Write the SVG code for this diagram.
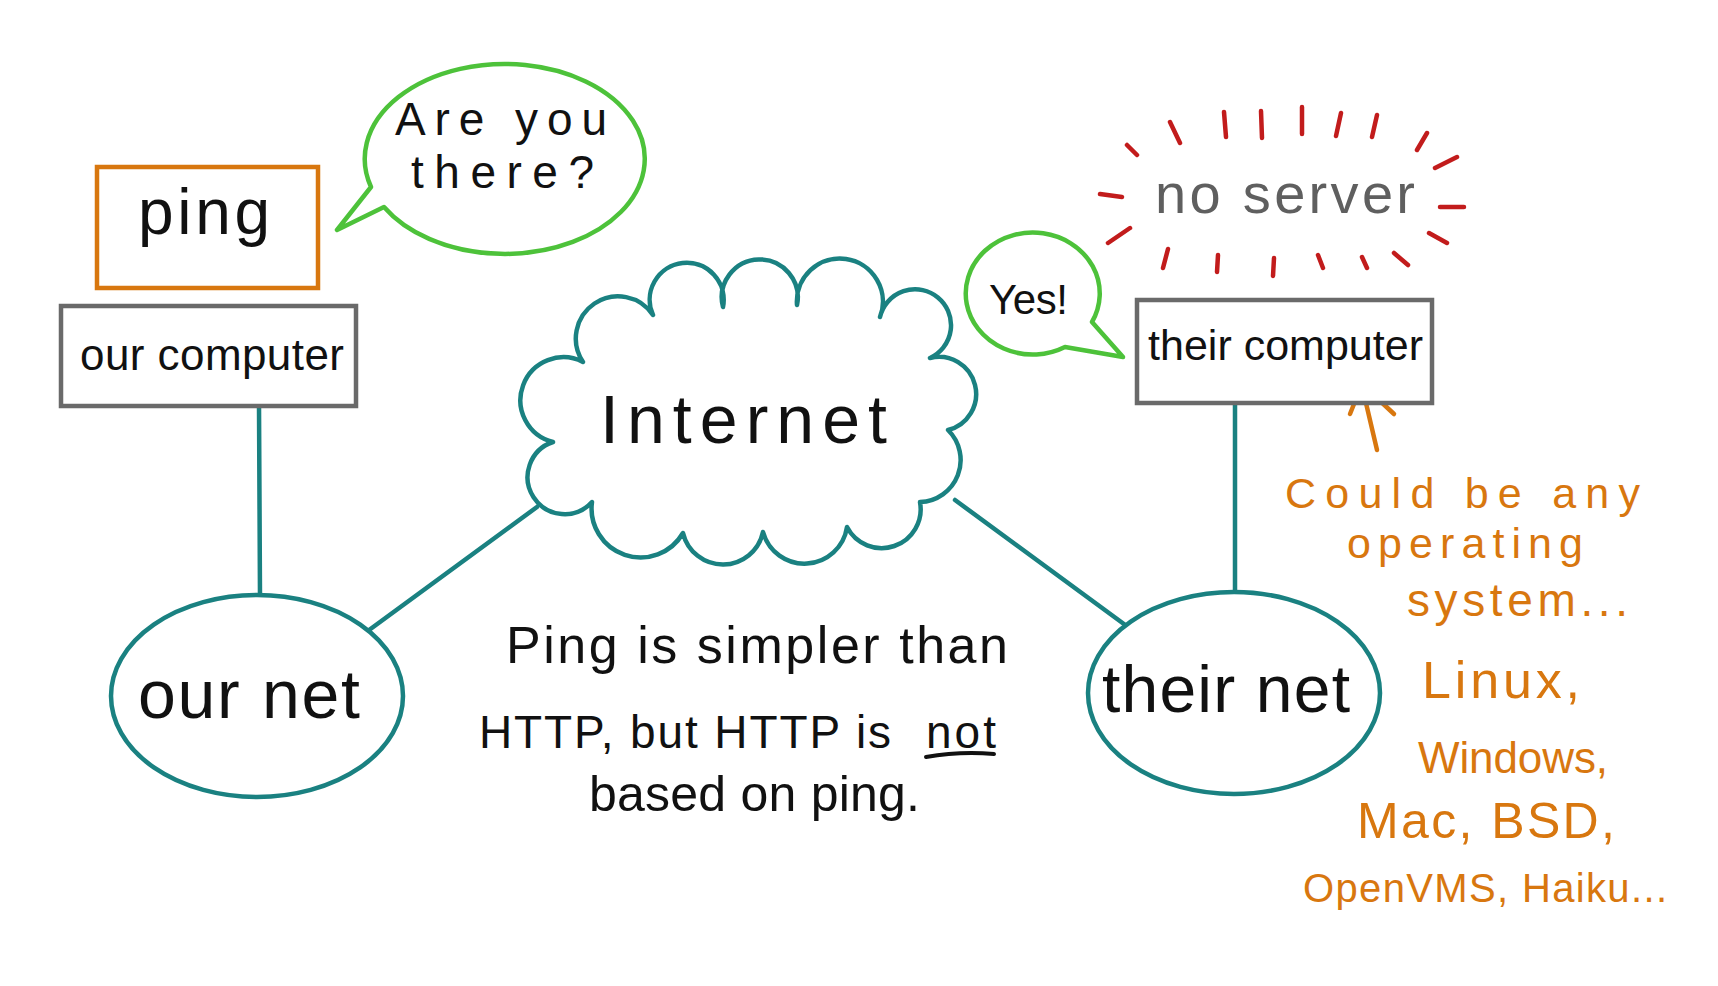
<svg xmlns="http://www.w3.org/2000/svg" width="1718" height="986" viewBox="0 0 1718 986">
<defs>
<style>
.t{font-family:"Liberation Sans",Arial,sans-serif;fill:#111}
.or{fill:#d8770f}
.teal{fill:#fff;stroke:#1a8181;stroke-width:4.5;stroke-linejoin:round}
.conn{fill:none;stroke:#1a8181;stroke-width:4.5;stroke-linecap:round}
.box{fill:#fff;stroke:#6a6a6a;stroke-width:4.5}
.bub{fill:#fff;stroke:#4dc23a;stroke-width:4.5;stroke-linejoin:round}
.dash{fill:none;stroke:#c21c1c;stroke-width:4.5;stroke-linecap:round}
</style>
</defs>
<rect width="1718" height="986" fill="#fff"/>
<g id="connectors">
<path class="conn" d="M259,405 L260,597"/>
<path class="conn" d="M365,633 L537,507"/>
<path class="conn" d="M955,500 L1128,627"/>
<path class="conn" d="M1235,402 L1235,593"/>
<path d="M1377,450 L1362,386 M1350,414 L1362,384 L1394,414" fill="none" stroke="#d8770f" stroke-width="4.5" stroke-linecap="round" stroke-linejoin="round"/>
</g>
<g id="ping">
<rect x="97" y="167" width="221" height="121" fill="#fff" stroke="#d8770f" stroke-width="4.5"/>
<text class="t" x="138" y="234" font-size="64" textLength="132">ping</text>
</g>
<g id="our-computer">
<rect class="box" x="61" y="306" width="295" height="100"/>
<text class="t" x="80" y="370" font-size="44" textLength="264">our computer</text>
</g>
<g id="bubble-are-you-there">
<path class="bub" d="M371,187 L337,230 L384,207 A140,95 0 1,0 371,187 Z"/>
<text class="t" x="395" y="135" font-size="46" textLength="212">Are you</text>
<text class="t" x="411" y="188" font-size="46" textLength="183">there?</text>
</g>
<g id="internet">
<path class="teal" d="M653,315 A37,37 0 1,1 723,307 A38,38 0 1,1 797,305 A43,43 0 1,1 880,317 A36,36 0 1,1 930,358 A37,37 0 1,1 948,430 A42,42 0 0,1 920,502 A39,39 0 0,1 847,527 A43,43 0 0,1 763,532 A41,41 0 0,1 683,533 A49,49 0 0,1 592,502 A37,37 0 1,1 553,442 A43,43 0 1,1 583,362 A42,42 0 1,1 653,315 Z"/>
<text class="t" x="600" y="443" font-size="68" textLength="287">Internet</text>
</g>
<g id="our-net">
<ellipse class="teal" cx="257" cy="696" rx="146" ry="101"/>
<text class="t" x="138" y="718" font-size="68" textLength="222">our net</text>
</g>
<g id="their-net">
<ellipse class="teal" cx="1234" cy="693" rx="146" ry="101"/>
<text class="t" x="1102" y="712" font-size="66" textLength="248">their net</text>
</g>
<g id="their-computer">
<rect class="box" x="1137" y="300" width="295" height="103"/>
<text class="t" x="1148" y="360" font-size="43" textLength="275">their computer</text>
</g>
<g id="bubble-yes">
<path class="bub" d="M1065,347 L1123,357 L1092,322 A67,61 0 1,0 1065,347 Z"/>
<text class="t" x="989" y="314" font-size="42" textLength="79">Yes!</text>
</g>
<g id="no-server">
<text class="t" x="1155" y="213" font-size="56" textLength="260" style="fill:#5f5f5f">no server</text>
<path class="dash" d="M1127,145 L1137,155 M1170,122 L1180,143 M1224,112 L1226,137 M1261,111 L1262,138 M1302,107 L1302,134 M1341,113 L1336,136 M1377,115 L1372,137 M1427,133 L1417,150 M1457,157 L1435,168 M1440,207 L1464,207 M1429,233 L1447,243 M1394,253 L1408,265 M1362,257 L1367,268 M1318,255 L1323,268 M1274,258 L1273,276 M1218,255 L1217,272 M1168,249 L1163,268 M1130,228 L1108,243 M1100,194 L1122,197"/>
</g>
<g id="note-ping-http">
<text class="t" x="506" y="663" font-size="52" textLength="502">Ping is simpler than</text>
<text class="t" x="479" y="748" font-size="46" textLength="412">HTTP, but HTTP is</text>
<text class="t" x="926" y="748" font-size="46" textLength="70">not</text>
<path d="M926,757 Q960,751 994,754" fill="none" stroke="#111" stroke-width="4" stroke-linecap="round"/>
<text class="t" x="589" y="811" font-size="50" textLength="331">based on ping.</text>
</g>
<g id="note-os">
<text class="t or" x="1285" y="508" font-size="43" textLength="355">Could be any</text>
<text class="t or" x="1347" y="558" font-size="43" textLength="236">operating</text>
<text class="t or" x="1407" y="616" font-size="46" textLength="221">system...</text>
<text class="t or" x="1422" y="698" font-size="52" textLength="158">Linux,</text>
<text class="t or" x="1418" y="773" font-size="44" textLength="190">Windows,</text>
<text class="t or" x="1357" y="838" font-size="50" textLength="258">Mac, BSD,</text>
<text class="t or" x="1303" y="902" font-size="40" textLength="364">OpenVMS, Haiku...</text>
</g>
</svg>
